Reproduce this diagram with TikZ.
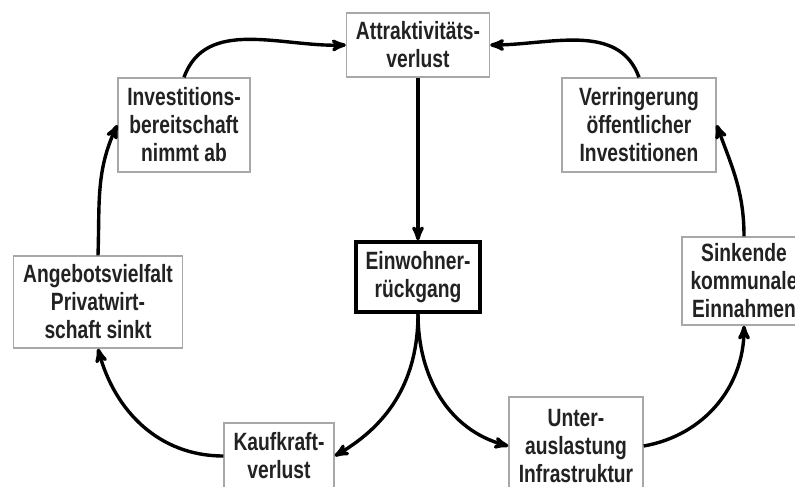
\documentclass[tikz,border=0pt]{standalone}
\usepackage{fontspec}
\usepackage{xcolor}
\usepackage{tikz}
\usetikzlibrary{arrows}
\newfontfamily\boxfont{Liberation Sans}[FakeStretch=0.77]
\definecolor{boxline}{HTML}{A8A8A8}
\definecolor{boxtext}{HTML}{222222}
\tikzset{>=stealth'}
\tikzset{
  box/.style={draw=boxline,line width=1.4pt,fill=white,align=center,text=boxtext,
    font=\boxfont\bfseries\fontsize{25}{28}\selectfont,inner sep=0pt},
  mainbox/.style={box,draw=black,line width=3.4pt},
  flow/.style={->,line width=3.4pt,black}
}

\begin{document}
\begin{tikzpicture}[x=1pt,y=1pt]
\useasboundingbox (0,0) rectangle (795,-487);
% boxes
\node[box,minimum width=143,minimum height=64] (attr) at (418,-45) {Attraktivit\"ats-\\verlust};
\node[box,minimum width=132,minimum height=94] (invest) at (184,-125) {Investitions-\\bereitschaft\\nimmt ab};
\node[box,minimum width=154,minimum height=94] (verring) at (639,-125) {Verringerung\\\"offentlicher\\Investitionen};
\node[mainbox,minimum width=124,minimum height=70] (einw) at (418,-277) {Einwohner-\\r\"uckgang};
\node[box,minimum width=169,minimum height=92] (angebot) at (98,-302) {Angebotsvielfalt\\Privatwirt-\\schaft sinkt};
\node[box,minimum width=124,minimum height=88] (sinkend) at (744,-281) {Sinkende\\kommunale\\Einnahmen};
\node[box,minimum width=110,minimum height=66] (kauf) at (279,-456) {Kaufkraft-\\verlust};
\node[box,minimum width=134,minimum height=98] (unter) at (576,-446) {Unter-\\auslastung\\Infrastruktur};
% cycle
\draw[flow] (attr) -- (einw);
\draw[flow] (einw.south) to[out=-90,in=30] (kauf.east);
\draw[flow] (einw.south) to[out=-90,in=165] (unter.west);
\draw[flow] (kauf.west) to[out=180,in=-75] (angebot.south);
\draw[flow] (angebot.north) to[out=88,in=-115] (invest.west);
\draw[flow] (invest.north) to[out=70,in=182] (attr.west);
\draw[flow] (unter.east) to[out=10,in=-90] (sinkend.south);
\draw[flow] (sinkend.north) to[out=90,in=-70] (verring.east);
\draw[flow] (verring.north) to[out=110,in=0] (attr.east);
\end{tikzpicture}
\end{document}
